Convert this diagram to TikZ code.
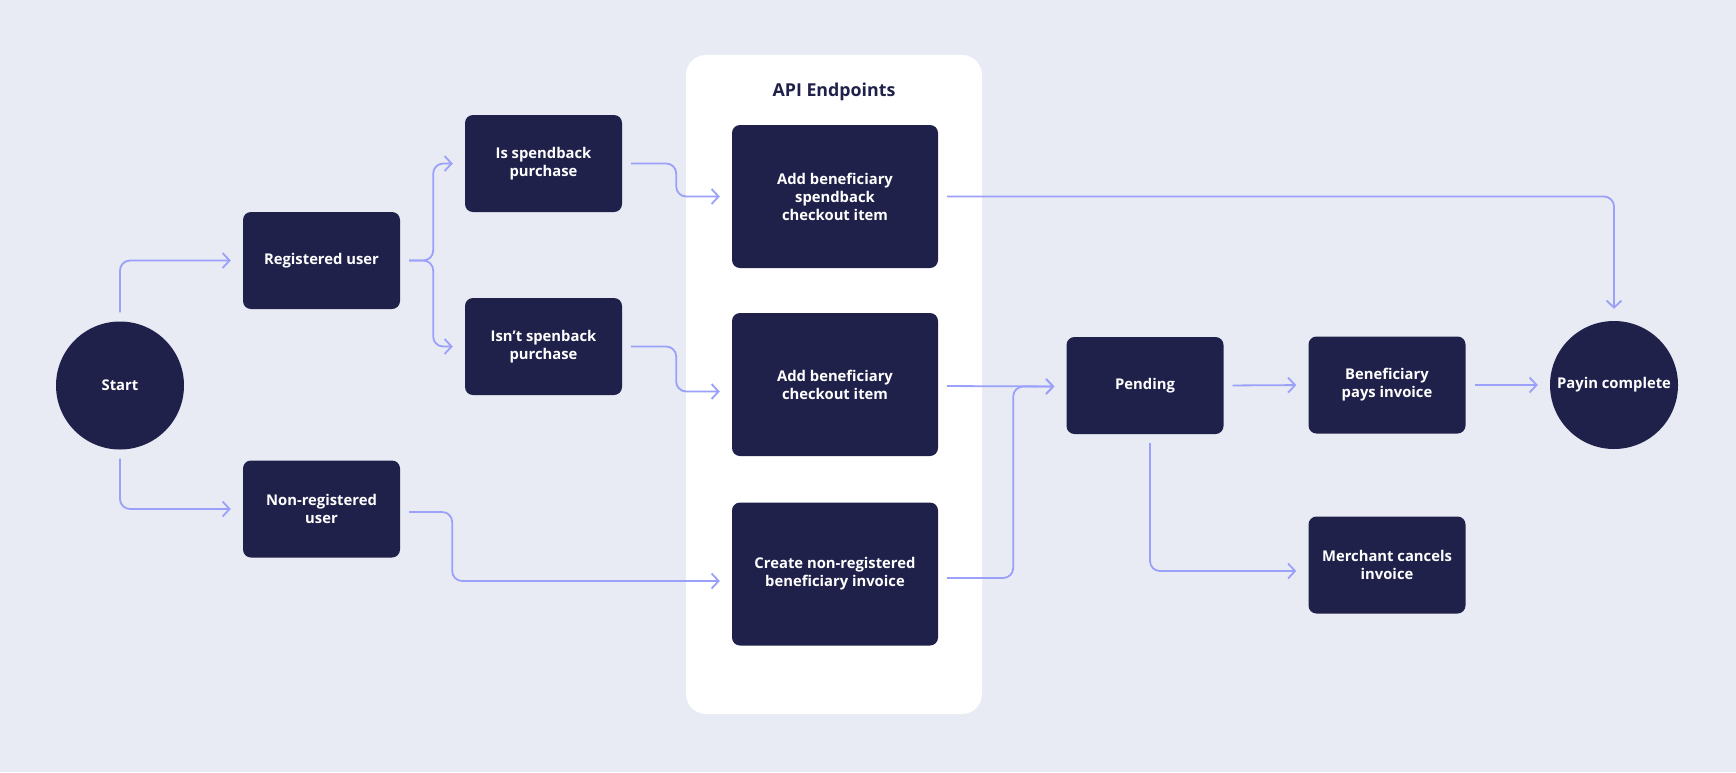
\documentclass[tikz,border=0pt]{standalone}
\usepackage{fontspec}
\setmainfont{Open Sans}
\usetikzlibrary{arrows.meta}
\definecolor{bgcol}{HTML}{E8EBF3}
\definecolor{navy}{HTML}{20214A}
\definecolor{flowcol}{HTML}{9BA1FB}
\tikzset{
	stepbox/.style={fill=navy, rounded corners=8pt, minimum width=157pt, minimum height=97pt, text=white, align=center, inner sep=0pt, font=\fontsize{14.8}{18}\selectfont\bfseries},
	apibox/.style={stepbox, minimum width=206pt, minimum height=143pt},
	endcircle/.style={circle, fill=navy, minimum size=128pt, inner sep=0pt, text=white, font=\fontsize{14.8}{18}\selectfont\bfseries},
	flow/.style={draw=flowcol, line width=1.8pt, rounded corners=10pt, -{Straight Barb[length=7pt,width=15pt]}, shorten <=9pt, shorten >=12pt},
}

\begin{document}
\begin{tikzpicture}[x=1pt, y=-1pt]
				\fill[bgcol] (0,0) rectangle (1736,772);
				\useasboundingbox (0,0) rectangle (1736,772);
				\node[fill=white, rounded corners=20pt, minimum width=296pt, minimum height=659pt] (panel) at (834,384.5) {};
				\node[text=navy, font=\fontsize{17.8}{20}\selectfont\bfseries] (title) at (834,92) {API Endpoints};
				\node[endcircle] (start) at (120,385.5) {Start};
				\node[stepbox] (reg) at (321.5,260.5) {Registered user};
				\node[stepbox] (nonreg) at (321.5,509) {Non-registered\\user};
				\node[stepbox] (issb) at (543.5,163.5) {Is spendback\\purchase};
				\node[stepbox] (notsb) at (543.5,346.5) {Isn’t spenback\\purchase};
				\node[apibox] (epsb) at (835,196.5) {Add beneficiary\\spendback\\checkout item};
				\node[apibox] (epitem) at (835,384.5) {Add beneficiary\\checkout item};
				\node[apibox] (epinv) at (835,574) {Create non-registered\\beneficiary invoice};
				\node[stepbox] (pend) at (1145,385.5) {Pending};
				\node[stepbox] (pays) at (1387,385) {Beneficiary\\pays invoice};
				\node[stepbox] (cancel) at (1387,565) {Merchant cancels\\invoice};
				\node[endcircle] (payin) at (1614,385) {Payin complete};
				\draw[flow] (start.north) |- (reg.west);
				\draw[flow] (start.south) |- (nonreg.west);
				\draw[flow] (reg.east) -- ++(33,0) |- (issb.west);
				\draw[flow] (reg.east) -- ++(33,0) |- (notsb.west);
				\draw[flow] (issb.east) -- ++(54,0) |- (epsb.west);
				\draw[flow] (notsb.east) -- ++(54,0) |- ([yshift=-7pt]epitem.west);
				\draw[flow] ([yshift=-3pt]nonreg.east) -- ++(52,0) |- ([yshift=-7pt]epinv.west);
				\draw[flow] (epsb.east) -| (payin.north);
				\draw[flow] ([yshift=-1.5pt]epitem.east) -- ([yshift=-1pt]pend.west);
				\draw[flow] ([yshift=-4pt]epinv.east) -- ++(75,0) |- ([yshift=-1pt]pend.west);
				\draw[flow] (pend.east) -- (pays.west);
				\draw[flow] (pays.east) -- (payin.west);
				\draw[flow] ([xshift=5pt]pend.south) |- ([yshift=-6pt]cancel.west);
			\end{tikzpicture}
\end{document}
